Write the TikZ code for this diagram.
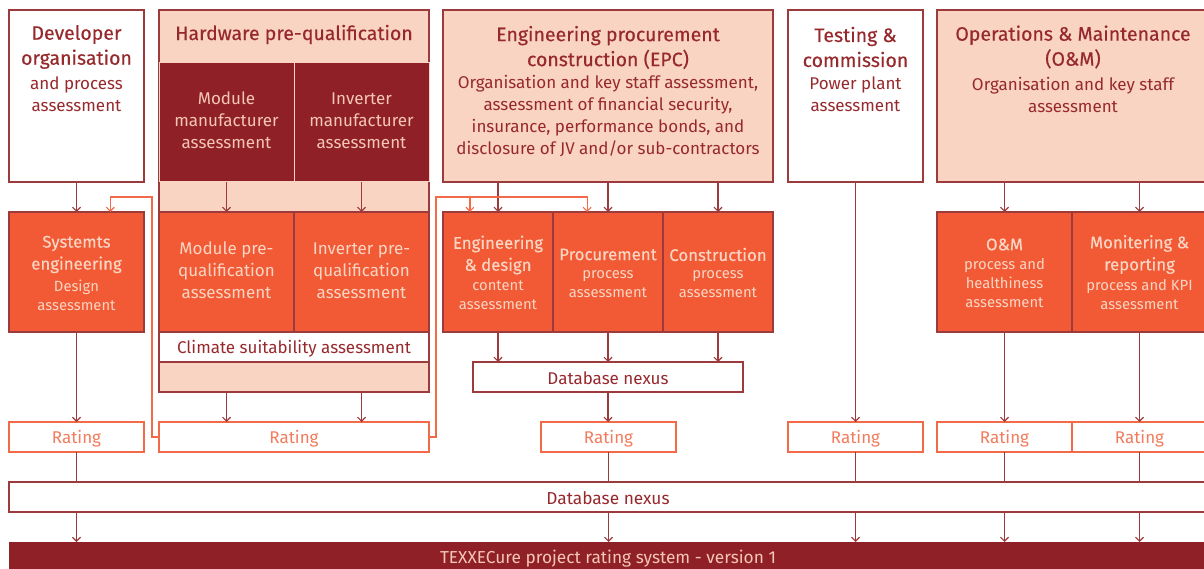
\documentclass[tikz,border=0pt]{standalone}
\usepackage{fontspec}
\setmainfont{Fira Sans}
\newfontfamily\tfont[FakeBold=0.3]{Fira Sans}
\usetikzlibrary{arrows.meta,calc}
\definecolor{dred}{HTML}{8F2027}
\definecolor{lred}{HTML}{9C3A3C}
\definecolor{pink}{HTML}{F9D4C2}
\definecolor{orng}{HTML}{F15A34}
\definecolor{oline}{HTML}{F26A47}
\definecolor{rtext}{HTML}{F27C5D}
\definecolor{tdark}{HTML}{97292D}
\definecolor{tlight}{HTML}{FBD5C4}
\definecolor{tpale}{HTML}{F5C6B3}
\tikzset{
  box/.style={draw=lred, line width=1.2pt, inner sep=0pt, outer sep=0pt},
  whitebox/.style={box, fill=white},
  pinkbox/.style={box, fill=pink},
  darkbox/.style={draw=pink, line width=1pt, fill=dred, inner sep=0pt, outer sep=0pt},
  orbox/.style={box, fill=orng},
  ratebox/.style={draw=oline, line width=1.2pt, fill=white, inner sep=0pt, outer sep=0pt},
  barbox/.style={draw=none, fill=dred, inner sep=0pt, outer sep=0pt},
  txt/.style={inner sep=0pt, align=center, yshift=-1.5pt},
  tt/.style={txt, text=tdark, font=\tfont\fontsize{19.5}{25}\selectfont},
  bt/.style={txt, text=tdark, font=\fontsize{17}{22}\selectfont},
  dt/.style={txt, text=tpale, font=\fontsize{17}{22}\selectfont},
  ot/.style={txt, text=tlight, font=\tfont\fontsize{16.8}{22}\selectfont},
  os/.style={txt, text=tlight, font=\fontsize{14.8}{19}\selectfont},
  ob/.style={txt, text=tlight, font=\fontsize{17}{22}\selectfont},
  rt/.style={txt, text=rtext, font=\fontsize{17}{22}\selectfont},
  arr/.style={draw=lred, line width=1.1pt, -{Straight Barb[length=4pt,width=8pt,line width=1.1pt]}},
  ln/.style={draw=lred, line width=1.1pt},
  oarr/.style={draw=oline, line width=1.1pt, -{Straight Barb[length=4pt,width=8pt,line width=1.1pt]}},
  oln/.style={draw=oline, line width=1.1pt},
}
\newcommand\mkbox[6]{\node[#1, minimum width={(#5-#3)*1pt}, minimum height={(#6-#4)*1pt}] (#2) at ({(#3+#5)/2},{(#4+#6)/2}) {};}
\begin{document}
\begin{tikzpicture}[x=1pt,y=-1pt]
\useasboundingbox (0,0) rectangle (1204,569);
\clip (0,0) rectangle (1204,569);
% top boxes
\mkbox{whitebox}{dev}{9}{10}{144}{182}
\mkbox{pinkbox}{hw}{159}{10}{429}{392}
\mkbox{darkbox}{mm}{159}{63}{294}{182}
\mkbox{darkbox}{im}{294}{63}{429}{182}
\mkbox{pinkbox}{epc}{443}{10}{773}{182}
\mkbox{whitebox}{tc}{788}{10}{923}{182}
\mkbox{pinkbox}{om}{937}{10}{1209}{182}
% second row
\mkbox{orbox}{sys}{9}{212}{144}{332}
\mkbox{orbox}{mp}{159}{212}{294}{332}
\mkbox{orbox}{ip}{294}{212}{429}{332}
\mkbox{whitebox}{cl}{159}{332}{429}{362}
\mkbox{orbox}{ed}{443}{212}{553}{332}
\mkbox{orbox}{pr}{553}{212}{663}{332}
\mkbox{orbox}{co}{663}{212}{773}{332}
\mkbox{whitebox}{dbe}{473}{362}{743}{392}
\mkbox{orbox}{omb}{937}{212}{1072}{332}
\mkbox{orbox}{mr}{1072}{212}{1207}{332}
% ratings
\mkbox{ratebox}{r1}{9}{422}{144}{452}
\mkbox{ratebox}{r2}{159}{422}{429}{452}
\mkbox{ratebox}{r3}{541}{422}{676}{452}
\mkbox{ratebox}{r4}{788}{422}{923}{452}
\mkbox{ratebox}{r5}{937}{422}{1072}{452}
\mkbox{ratebox}{r6}{1072}{422}{1207}{452}
% bottom
\mkbox{whitebox}{db}{9}{482}{1210}{512}
\mkbox{barbox}{bar}{9}{542}{1210}{580}

% texts
\node[tt] (devT) at (76.5,45.5) {Developer\\organisation};
\node[bt] (devB) at (76.5,93) {and process\\assessment};
\node[tt] (hwT) at (294,33) {Hardware pre-qualification};
\node[dt] (mmT) at (226.5,119) {Module\\manufacturer\\assessment};
\node[dt] (imT) at (361.5,119) {Inverter\\manufacturer\\assessment};
\node[tt] (epcT) at (608,46) {Engineering procurement\\construction (EPC)};
\node[bt] (epcB) at (608,115) {Organisation and key staff assessment,\\assessment of financial security,\\insurance, performance bonds, and\\disclosure of JV and/or sub-contractors};
\node[tt] (tcT) at (855.5,45.5) {Testing \&\\commission};
\node[bt] (tcB) at (855.5,93) {Power plant\\assessment};
\node[tt] (omT) at (1073,45.5) {Operations \& Maintenance\\(O\&M)};
\node[bt] (omB) at (1073,93) {Organisation and key staff\\assessment};

\node[ot] (sysT) at (76.5,253) {Systemts\\engineering};
\node[os] (sysB) at (76.5,293.5) {Design\\assessment};
\node[ob] (mpT) at (226.5,269) {Module pre-\\qualification\\assessment};
\node[ob] (ipT) at (361.5,269) {Inverter pre-\\qualification\\assessment};
\node[bt] (clT) at (294,347) {Climate suitability assessment};
\node[ot] (edT) at (498,253.5) {Engineering\\\& design};
\node[os] (edB) at (498,293.5) {content\\assessment};
\node[ot] (prT) at (608,253) {Procurement};
\node[os] (prB) at (608,282.5) {process\\assessment};
\node[ot] (coT) at (718,253) {Construction};
\node[os] (coB) at (718,282.5) {process\\assessment};
\node[bt] (dbeT) at (608,377) {Database nexus};
\node[ot] (ombT) at (1004.5,243) {O\&M};
\node[os] (ombB) at (1004.5,282) {process and\\healthiness\\assessment};
\node[ot] (mrT) at (1139.5,253) {Monitering \&\\reporting};
\node[os] (mrB) at (1139.5,293.5) {process and KPI\\assessment};

\foreach \r in {r1,r2,r3,r4,r5,r6} {\node[rt] (\r T) at (\r) {Rating};}
\node[txt, text=tdark, font=\fontsize{17.3}{22}\selectfont] (dbT) at (608,497) {Database nexus};
\node[txt, text=tpale, font=\fontsize{17.3}{22}\selectfont] (barT) at (608,557) {TEXXECure project rating system - version 1};

% connectors
\draw[arr] (dev.south) -- (sys.north);
\draw[arr] (mm.south) -- (mp.north);
\draw[arr] (im.south) -- (ip.north);
\draw[arr] (mm.south |- hw.south) -- (mm.south |- r2.north);
\draw[arr] (im.south |- hw.south) -- (im.south |- r2.north);
\draw[arr] (ed.north |- epc.south) -- (ed.north);
\draw[arr] (pr.north |- epc.south) -- (pr.north);
\draw[arr] (co.north |- epc.south) -- (co.north);
\draw[arr] (ed.south) -- (ed.south |- dbe.north);
\draw[arr] (pr.south) -- (pr.south |- dbe.north);
\draw[arr] (co.south) -- (co.south |- dbe.north);
\draw[arr] (dbe.south) -- (dbe.south |- r3.north);
\draw[arr] (sys.south) -- (r1.north);
\draw[arr] (tc.south) -- (r4.north);
\draw[arr] (omb.north |- om.south) -- (omb.north);
\draw[arr] (mr.north |- om.south) -- (mr.north);
\draw[arr] (omb.south) -- (r5.north);
\draw[arr] (mr.south) -- (r6.north);
\foreach \r in {r1,r3,r4,r5,r6} {
  \draw[ln] (\r.south) -- (\r.south |- db.north);
  \draw[arr] (\r.south |- db.south) -- (\r.south |- bar.north);
}
% orange feedback connectors
\coordinate (oa) at ($(sys.north west)!0.75!(sys.north east)$);
\draw[oarr] (r2.west) -- ++(-7,0) |- ([yshift=15pt]oa) -- (oa);
\coordinate (ob1) at ($(ed.north west)!0.245!(ed.north east)$);
\coordinate (ob2) at ($(pr.north west)!0.31!(pr.north east)$);
\draw[oarr] (r2.east) -- ++(7,0) |- ([yshift=15pt]ob2) -- (ob2);
\draw[oarr] ([yshift=15pt]ob1) -- (ob1);
\end{tikzpicture}
\end{document}
